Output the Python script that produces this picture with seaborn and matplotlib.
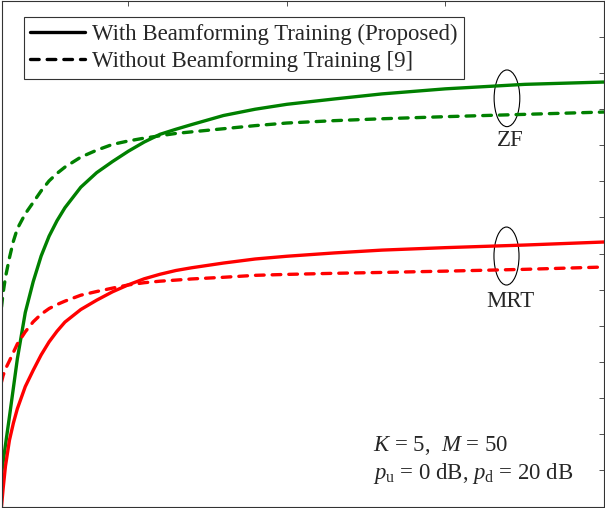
import matplotlib
matplotlib.use("Agg")
import matplotlib.pyplot as plt
from matplotlib.lines import Line2D
from matplotlib.patches import Ellipse
import seaborn as sns
import pandas as pd

# values (tick labels are cropped away, so units are nominal)
x_vals = [2, 2.1, 2.25, 2.5, 2.75, 3, 3.5, 4, 4.5, 5, 5.5, 6, 7, 8, 9, 10,
          11, 12, 13, 14, 16, 18, 20, 23, 26, 30, 35, 40]
zf_with = [4.50, 6.10, 8.51, 12.41, 16.41, 20.43, 26.84, 31.11, 34.65, 37.39,
           39.53, 41.33, 44.17, 46.18, 47.72, 49.15, 50.42, 51.49, 52.19, 52.84,
           54.09, 54.96, 55.64, 56.38, 57.08, 57.78, 58.40, 58.72]
zf_without = [27.60, 29.53, 31.70, 34.40, 36.70, 38.44, 40.50, 42.07, 43.66, 45.04,
              46.08, 46.95, 48.33, 49.29, 50.09, 50.57, 50.96, 51.29, 51.61, 51.83,
              52.26, 52.69, 53.05, 53.38, 53.64, 53.93, 54.25, 54.57]
mrt_with = [0.0, 2.42, 5.59, 9.16, 11.54, 13.53, 16.59, 18.85, 20.97, 22.77,
            24.24, 25.51, 27.25, 28.54, 29.70, 30.67, 31.50, 32.13, 32.65, 33.03,
            33.68, 34.24, 34.62, 35.08, 35.47, 35.81, 36.17, 36.59]
mrt_without = [17.22, 18.11, 19.03, 20.15, 21.33, 22.49, 24.17, 25.55, 26.60, 27.38,
               27.94, 28.41, 29.23, 29.74, 30.21, 30.65, 30.96, 31.17, 31.32, 31.48,
               31.71, 31.98, 32.11, 32.26, 32.38, 32.56, 32.81, 33.13]

trainings = ["With Beamforming Training (Proposed)", "Without Beamforming Training [9]"]
colors = {"ZF": "#008000", "MRT": "#ff0000"}
dash_map = {trainings[0]: "", trainings[1]: (2.6, 2.4)}

rows = []
for scheme, training, ys in [("ZF", trainings[0], zf_with), ("ZF", trainings[1], zf_without),
                             ("MRT", trainings[0], mrt_with), ("MRT", trainings[1], mrt_without)]:
    for xv, yv in zip(x_vals, ys):
        rows.append({"x": xv, "rate": yv, "scheme": scheme, "training": training})
df = pd.DataFrame(rows)

sns.set_style("white")
plt.rcParams["font.family"] = ["Liberation Serif", "DejaVu Serif"]
plt.rcParams["mathtext.fontset"] = "custom"
plt.rcParams["mathtext.rm"] = "Liberation Serif"
plt.rcParams["mathtext.it"] = "Liberation Serif:italic"

fig = plt.figure(figsize=(6.05, 5.08), dpi=100)
ax = fig.add_axes([1.5 / 605, 1.5 / 508, 602.5 / 605, 506 / 508])

sns.lineplot(data=df, x="x", y="rate", hue="scheme", style="training",
             palette=colors, dashes=dash_map, linewidth=2.4,
             dash_capstyle="round", legend=False, ax=ax, sort=False)

ax.set_xlim(2, 40)
ax.set_ylim(0, 70)
ax.set_xticks([10, 20, 30, 40])
ax.set_yticks(range(0, 71, 5))
ax.tick_params(direction="in", length=3.6, width=0.6, color="#333333",
               top=True, right=True, labelleft=False, labelbottom=False)
ax.set_xlabel("")
ax.set_ylabel("")
for sp in ax.spines.values():
    sp.set_color("#333333")
    sp.set_linewidth(0.8)

# legend with black sample lines
handles = [Line2D([], [], color="black", lw=2.4),
           Line2D([], [], color="black", lw=2.4, dashes=(2.6, 2.4), dash_capstyle="round")]
leg = ax.legend(handles, trainings, loc="upper left",
                bbox_to_anchor=(24 / 605, 1 - 17 / 508), bbox_transform=fig.transFigure,
                borderaxespad=0, fontsize=16.4, handlelength=2.4, handletextpad=0.3,
                borderpad=0.28, labelspacing=0.3, fancybox=False, framealpha=1)
leg.get_frame().set_edgecolor("#333333")
leg.get_frame().set_linewidth(0.8)

# scheme markers
ax.add_patch(Ellipse((33.88, 56.47), 1.62, 7.84, fill=False, ec="black", lw=0.8))
ax.add_patch(Ellipse((33.85, 34.65), 1.58, 8.02, fill=False, ec="black", lw=0.8))
ax.text(34.07, 49.87, "ZF", ha="center", va="baseline", fontsize=16.5)
ax.text(34.1, 27.6, "MRT", ha="center", va="baseline", fontsize=16.5)

ax.text(25.43, 7.68, r"$K$ = 5,  $M$ = 50", ha="left", va="baseline", fontsize=16.4)
ax.text(25.43, 3.76, r"$p_{\rm u}$ = 0 dB, $p_{\rm d}$ = 20 dB", ha="left",
        va="baseline", fontsize=16.4)

fig.savefig("out.png", dpi=100)
